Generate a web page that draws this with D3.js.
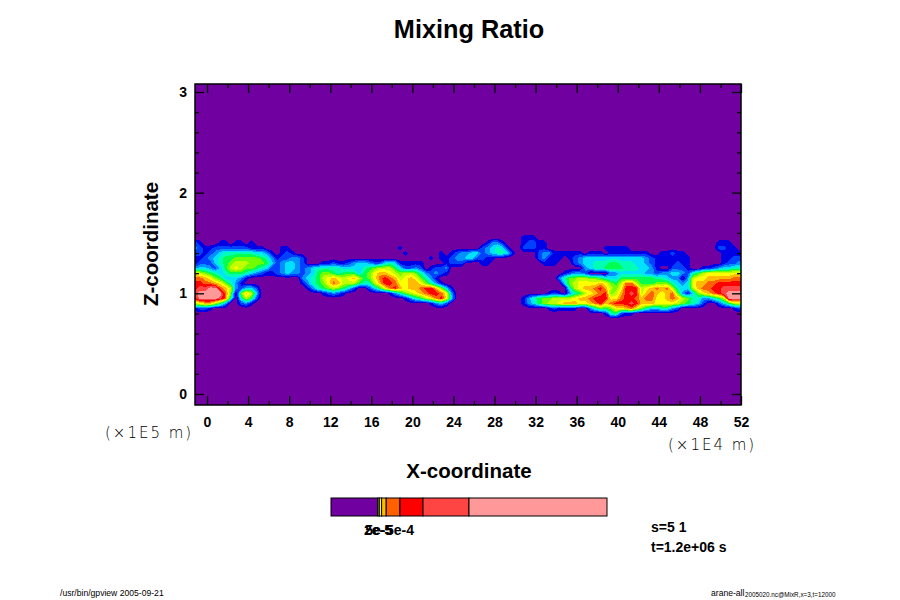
<!DOCTYPE html>
<html>
<head>
<meta charset="utf-8">
<script src="https://cdn.jsdelivr.net/npm/d3@7"></script>
<style>
  html, body { margin: 0; padding: 0; background: #fff; }
  text { font-family: "Liberation Sans", sans-serif; fill: #000; }
  .Bold { font-weight: bold; }
  .Unit { font-family: "DejaVu Sans", sans-serif; font-weight: 200; letter-spacing: 2px; }
  .axis path { display: none; }
  .axis line { stroke: #000; stroke-width: 1.3; }
  .axis text { font-family: "Liberation Sans", sans-serif; font-weight: bold; font-size: 14px; fill: #000; }
</style>
</head>
<body>
<div id="ChartContainer"></div>
<script>
// axis ticks
var xMajorTicks = [0, 4, 8, 12, 16, 20, 24, 28, 32, 36, 40, 44, 48, 52]
var xMinorTicks = [2, 6, 10, 14, 18, 22, 26, 30, 34, 38, 42, 46, 50]
var zMajorTicks = [0, 1, 2, 3]
var zMinorTicks = [0.2, 0.4, 0.6, 0.8, 1.2, 1.4, 1.6, 1.8, 2.2, 2.4, 2.6, 2.8]

// tone colours, lowest level first
var toneColors = ["#7000a0", "#0000e6", "#0040ff", "#0090ff", "#00e0ff", "#00ffb4", "#00ff50",
  "#70ff00", "#c0ff00", "#ffff00", "#ffbb00", "#ff6000", "#ff0000", "#ff4444", "#ff9999"]

// colour bar: edges in kg/kg and the colour of each segment
var barEdges = [-1e-3, 2e-5, 5e-5, 1e-4, 2e-4, 5e-4, 1e-3, 2e-3, 5e-3]
var barColors = ["#7000a0", "#c0ff00", "#ffff00", "#ffbb00", "#ff6000", "#ff0000", "#ff4444", "#ff9999"]
var barLabels = [[2e-5, "2e-5"], [5e-5, "5e-5"], [5e-4, "5e-4"]]

// mixing ratio tone level by grid row (z = 1.60 down to 0.75, step 0.05),
// each row is a list of [column, levels]; column 0 is x = -1.17, step 0.5; anything not listed is level 0
var cloudRows = [
  [],
  [[64, "111"]],
  [[0, "21"], [5, "11"], [8, "11"], [11, "1"], [57, "1331"], [64, "12211"], [102, "111"]],
  [[0, "321"], [3, "12222222111"], [17, "11"], [40, "1"], [56, "234541"], [64, "22211"], [80, "11111"], [102, "2211"]],
  [[0, "2212345555554431"], [17, "121"], [41, "1"], [48, "1"], [50, "123344"], [56, "2345541"], [67, "2331"], [71, "11"], [73, "111"], [77, "111"], [81, "1111"], [85, "1111"], [91, "11211"], [103, "1111"]],
  [[0, "1123456677777653"], [16, "122332"], [46, "1"], [48, "1"], [49, "123344"], [55, "2211"], [67, "2311"], [71, "1"], [73, "123444444444444321"], [91, "111111"], [103, "1122"]],
  [[0, "1222456788877764"], [16, "234432"], [25, "112"], [28, "11234432"], [36, "24541"], [41, "1111"], [49, "1222"], [56, "11"], [68, "111"], [74, "23445556655544321"], [91, "111211"], [103, "1223"]],
  [[0, "3443246898776542"], [16, "234432"], [22, "3455"], [26, "5554444"], [33, "567888642"], [42, "232"], [46, "1223"], [76, "345566665554431"], [93, "2221"], [99, "11234455"]],
  [[0, "98765456665432112343"], [20, "32346776566646"], [34, "79aa98"], [40, "7887532321"], [72, "12332"], [81, "3344444332"], [91, "33443"], [96, "25689999999"]],
  [[0, "bba97644431"], [21, "345689a989a8679bcba89a97531"], [71, "357788776544666666655433"], [96, "3899aaaaabbb"]],
  [[0, "ccbba97531"], [21, "135679ba888655"], [35, "8accb99aa97531"], [72, "4789999a976" + "8bb86667775432"], [96, "49aabbcccccc"]],
  [[0, "cddeeba832442"], [22, "1356787642"], [34, "2469bca9aabcca741"], [73, "589aabca879" + "ccc89abab8543"], [96, "48abbccdddd"]],
  [[0, "deeeeeb707a84"], [25, "12321"], [38, "135789abccb93"], [69, "121"], [73, "35"], [75, "689abc78acdc8aba9ab731"], [97, "479abcdeee"]],
  [[0, "ceeeedb505862"], [41, "135689bc94"], [64, "1"], [65, "3567788889aabccc99bccbabb99aba87553"], [100, "3568eee"]],
  [[0, "89aa863"], [9, "231"], [46, "1342"], [64, "1"], [65, "3467889aaa99abcabcccdcaaa9999876542"], [102, "24688"]],
  [[0, "1221"], [69, "121111"], [77, "357679"], [83, "9ab9754"], [90, "45532"], [105, "12"]],
  [[80, "1562"], [84, "11"]],
  []
]

function makeChart() {
  var fullWidth = 900
  var fullHeight = 600
  var plot = { left: 195, right: 741, top: 84, bottom: 405 }
  var longTick = 9
  var shortTick = 4

  var columnCount = 107
  var columnStart = -1.17
  var columnStep = 0.5
  var rowStart = 1.6
  var rowStep = 0.05

  var svg = d3.select("#ChartContainer").append("svg")
    .attr("width", fullWidth)
    .attr("height", fullHeight)
    .style("display", "block")

  var x = d3.scaleLinear().domain([-1.17, 52]).range([plot.left, plot.right])
  var z = d3.scaleLinear().domain([0, 3]).range([394, 92])

  // Chart title
  svg.append("text")
    .attr("class", "Bold")
    .attr("x", 469)
    .attr("y", 38)
    .attr("text-anchor", "middle")
    .attr("font-size", "25.3px")
    .text("Mixing Ratio")

  svg.append("clipPath")
    .attr("id", "PlotClip")
    .append("rect")
    .attr("x", plot.left)
    .attr("y", plot.top)
    .attr("width", plot.right - plot.left)
    .attr("height", plot.bottom - plot.top)

  svg.append("rect")
    .attr("x", plot.left)
    .attr("y", plot.top)
    .attr("width", plot.right - plot.left)
    .attr("height", plot.bottom - plot.top)
    .attr("fill", toneColors[0])

  // flatten the rows into the grid d3.contours wants
  var grid = new Array(columnCount * cloudRows.length).fill(0)
  cloudRows.forEach((row, r) => {
    row.forEach(span => {
      span[1].split("").forEach((ch, i) => {
        if (span[0] + i < columnCount) grid[r * columnCount + span[0] + i] = parseInt(ch, 16)
      })
    })
  })

  var contours = d3.contours()
    .size([columnCount, cloudRows.length])
    .thresholds(toneColors.slice(1).map((c, i) => i + 0.5))(grid)

  // grid value i sits at i + 0.5 in contour coordinates
  var toPlot = d3.geoTransform({
    point: function (cx, cy) {
      this.stream.point(
        x(columnStart + (cx - 0.5) * columnStep),
        z(rowStart - (cy - 0.5) * rowStep)
      )
    }
  })

  svg.append("g")
    .attr("clip-path", "url(#PlotClip)")
    .selectAll("path")
    .data(contours)
    .enter().append("path")
    .attr("d", d3.geoPath(toPlot))
    .attr("fill", (d, i) => toneColors[i + 1])
    .attr("shape-rendering", "crispEdges")

  // axes, ticks point inward on all four sides
  var addAxis = (axisFn, scale, values, size, translate, labelled, padding) => {
    var axis = axisFn(scale).tickValues(values).tickSize(-size)
    if (padding) axis.tickPadding(padding)
    axis.tickFormat(labelled ? d3.format("d") : "")
    svg.append("g")
      .attr("class", "axis")
      .attr("transform", translate)
      .call(axis)
  }
  addAxis(d3.axisBottom, x, xMajorTicks, longTick, `translate(0,${plot.bottom})`, true, 12)
  addAxis(d3.axisBottom, x, xMinorTicks, shortTick, `translate(0,${plot.bottom})`, false)
  addAxis(d3.axisTop, x, xMajorTicks, longTick, `translate(0,${plot.top})`, false)
  addAxis(d3.axisTop, x, xMinorTicks, shortTick, `translate(0,${plot.top})`, false)
  addAxis(d3.axisLeft, z, zMajorTicks, longTick, `translate(${plot.left},0)`, true, 8)
  addAxis(d3.axisLeft, z, zMinorTicks, shortTick, `translate(${plot.left},0)`, false)
  addAxis(d3.axisRight, z, zMajorTicks, longTick, `translate(${plot.right},0)`, false)
  addAxis(d3.axisRight, z, zMinorTicks, shortTick, `translate(${plot.right},0)`, false)

  svg.append("rect")
    .attr("x", plot.left)
    .attr("y", plot.top)
    .attr("width", plot.right - plot.left)
    .attr("height", plot.bottom - plot.top)
    .attr("fill", "none")
    .attr("stroke", "#000")
    .attr("stroke-width", 1.5)

  // axis labels
  svg.append("text")
    .attr("class", "Bold")
    .attr("x", 469)
    .attr("y", 478)
    .attr("text-anchor", "middle")
    .attr("font-size", "20.5px")
    .text("X-coordinate")

  svg.append("text")
    .attr("class", "Bold")
    .attr("transform", "translate(158,244) rotate(-90)")
    .attr("text-anchor", "middle")
    .attr("font-size", "20.5px")
    .text("Z-coordinate")

  svg.append("text")
    .attr("class", "Unit")
    .attr("x", 105)
    .attr("y", 438)
    .attr("font-size", "15px")
    .text("(×1E5 m)")

  svg.append("text")
    .attr("class", "Unit")
    .attr("x", 668)
    .attr("y", 450)
    .attr("font-size", "15px")
    .text("(×1E4 m)")

  // colour bar
  var barX = d3.scaleLinear().domain([-1e-3, 5e-3]).range([331, 607])
  var barTop = 498
  var barHeight = 18

  svg.append("g")
    .selectAll("rect")
    .data(barColors)
    .enter().append("rect")
    .attr("x", (d, i) => barX(barEdges[i]))
    .attr("y", barTop)
    .attr("width", (d, i) => barX(barEdges[i + 1]) - barX(barEdges[i]))
    .attr("height", barHeight)
    .attr("fill", d => d)
    .attr("stroke", "#000")
    .attr("stroke-width", 1)

  svg.append("g")
    .selectAll("text")
    .data(barLabels)
    .enter().append("text")
    .attr("class", "Bold")
    .attr("x", d => barX(d[0]))
    .attr("y", 535)
    .attr("text-anchor", "middle")
    .attr("font-size", "14px")
    .text(d => d[1])

  svg.append("text")
    .attr("class", "Bold")
    .attr("x", 651)
    .attr("y", 532)
    .attr("font-size", "14px")
    .text("s=5 1")

  svg.append("text")
    .attr("class", "Bold")
    .attr("x", 651)
    .attr("y", 552)
    .attr("font-size", "14px")
    .text("t=1.2e+06 s")

  // footer
  svg.append("text")
    .attr("x", 60)
    .attr("y", 596)
    .attr("font-size", "8.6px")
    .text("/usr/bin/gpview 2005-09-21")

  svg.append("text")
    .attr("x", 711)
    .attr("y", 596)
    .attr("font-size", "8.6px")
    .text("arane-all")

  svg.append("text")
    .attr("x", 745)
    .attr("y", 597)
    .attr("font-size", "6.3px")
    .text("2005020.nc@MixR,x=3,t=12000")
}

makeChart()
</script>
</body>
</html>
